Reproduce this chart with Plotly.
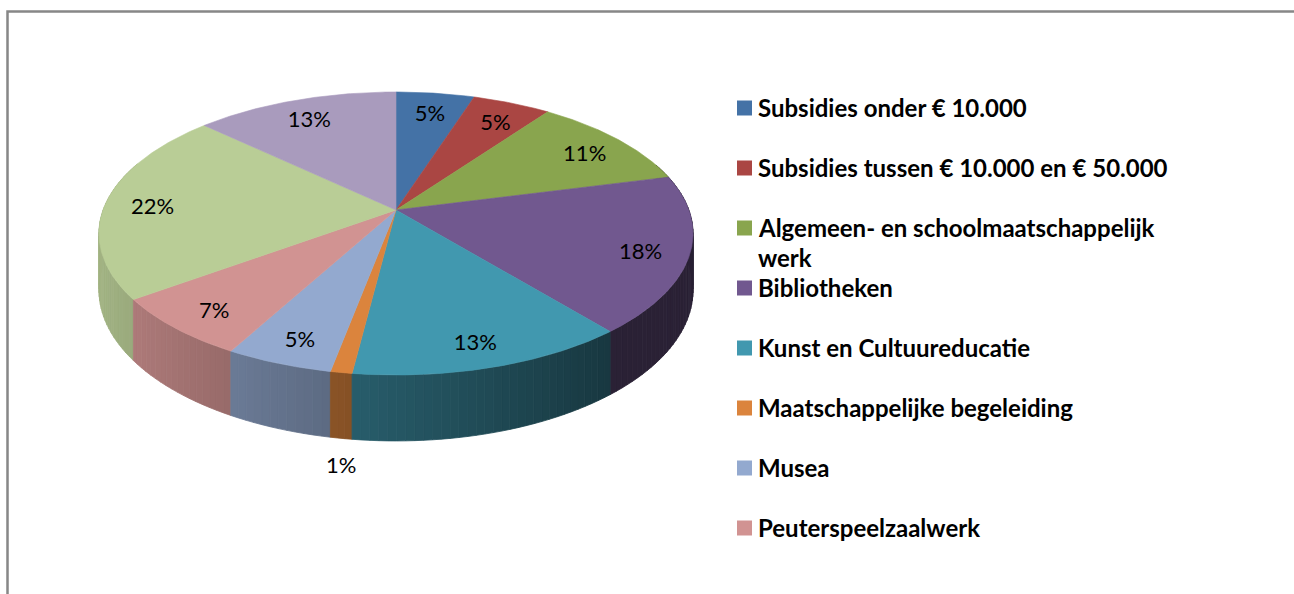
import math
import plotly.graph_objects as go

# ---------------- data ----------------
# Slices in drawing order, clockwise from 12 o'clock.
values = [5, 5, 11, 18, 13, 1, 5, 7, 22, 13]          # percentages
slice_colors = ["#4472A6", "#AA4643", "#89A54E", "#71588F", "#4198AF",
                "#DB843D", "#93A9CF", "#D19392", "#B9CD96", "#A99BBD"]
# Legend in the source only shows the first 8 categories (the rest is cut off).
legend_labels = ["Subsidies onder € 10.000",
                 "Subsidies tussen € 10.000 en € 50.000",
                 "Algemeen- en schoolmaatschappelijk<br>werk",
                 "Bibliotheken",
                 "Kunst en Cultuureducatie",
                 "Maatschappelijke begeleiding",
                 "Musea",
                 "Peuterspeelzaalwerk"]

# ---------------- layout / style constants ----------------
W, Hh = 1294, 594
CX, CY = 396.0, 210.0      # apex of the pie (pixels)
A, B = 292.9, 137.6        # horizontal / vertical radius factors
K = 0.166                  # perspective strength
DEPTH = 55.0               # thickness of the pie
LABEL_FONT = "Lato, 'Open Sans', Arial, sans-serif"


def proj(r, theta_deg, drop=0.0):
    t = math.radians(theta_deg)
    X = r * math.sin(t)
    Y = r * math.cos(t)
    w = 1.0 + K * Y
    return CX + A * X / w, CY - B * Y / w + DEPTH * drop / w


def shade(hex_color, f):
    h = hex_color.lstrip("#")
    r, g, b = (int(h[i:i + 2], 16) for i in (0, 2, 4))
    return "rgb(%d,%d,%d)" % (round(r * f), round(g * f), round(b * f))


total = float(sum(values))
starts, ends = [], []
acc = 0.0
for v in values:
    starts.append(acc / total * 360.0)
    acc += v
    ends.append(acc / total * 360.0)

fig = go.Figure()

# ---- side walls (drawn far to near) ----
quads = []
for i, v in enumerate(values):
    a0, a1 = starts[i], ends[i]
    n = max(1, int(math.ceil((a1 - a0) / 1.5)))
    for j in range(n):
        s = a0 + (a1 - a0) * j / n
        e = a0 + (a1 - a0) * (j + 1) / n
        m = math.radians((s + e) / 2)
        Ym, Xm = math.cos(m), math.sin(m)
        if Ym > 0.35:
            continue
        quads.append((Ym, Xm, i, s, e))
quads.sort(key=lambda q: -q[0])
for Ym, Xm, i, s, e in quads:
    p0 = proj(1, s); p1 = proj(1, e)
    q1 = proj(1, e, 1); q0 = proj(1, s, 1)
    f = min(0.88, max(0.37, 0.57 - 0.32 * Xm))
    c = shade(slice_colors[i], f)
    fig.add_trace(go.Scatter(
        x=[p0[0], p1[0], q1[0], q0[0], p0[0]],
        y=[p0[1], p1[1], q1[1], q0[1], p0[1]],
        mode="lines", fill="toself", fillcolor=c,
        line=dict(color=c, width=0.8), hoverinfo="skip", showlegend=False))

# ---- top faces ----
for i, v in enumerate(values):
    a0, a1 = starts[i], ends[i]
    n = max(2, int(math.ceil((a1 - a0) / 0.5)))
    xs, ys = [CX], [CY]
    for j in range(n + 1):
        px, py = proj(1, a0 + (a1 - a0) * j / n)
        xs.append(px); ys.append(py)
    xs.append(CX); ys.append(CY)
    fig.add_trace(go.Scatter(
        x=xs, y=ys, mode="lines", fill="toself", fillcolor=slice_colors[i],
        line=dict(color=slice_colors[i], width=0.6),
        hoverinfo="skip", showlegend=False))

# ---- data labels ----
lx, ly, lt = [], [], []
for i, v in enumerate(values):
    mid = (starts[i] + ends[i]) / 2
    if v / total < 0.02:
        x, y = proj(1.0, mid, 1)
        y += 29
    else:
        x, y = proj(0.84, mid)
        y += 6
    lx.append(x); ly.append(y); lt.append("%d%%" % round(v / total * 100))
fig.add_trace(go.Scatter(
    x=lx, y=ly, text=lt, mode="text", textposition="middle center",
    textfont=dict(family=LABEL_FONT, size=22, color="#000000"),
    hoverinfo="skip", showlegend=False))

# ---- legend (as in the source: square swatch + bold text, 60 px pitch) ----
LEG_X, LEG_Y, LEG_STEP, LINE_STEP = 744.5, 108.0, 60.0, 30.0
sw_x, sw_y, sw_c = [], [], []
annotations = []
for i, lab in enumerate(legend_labels):
    y0 = LEG_Y + LEG_STEP * i
    sw_x.append(LEG_X); sw_y.append(y0); sw_c.append(slice_colors[i])
    for k, line in enumerate(lab.split("<br>")):
        annotations.append(dict(
            x=757, y=y0 - 1 + LINE_STEP * k, xref="x", yref="y",
            text=line, showarrow=False, xanchor="left", yanchor="middle",
            borderpad=0,
            font=dict(family=LABEL_FONT, size=24, color="#000000", weight="bold")))
fig.add_trace(go.Scatter(
    x=sw_x, y=sw_y, mode="markers",
    marker=dict(symbol="square", size=15, color=sw_c, line=dict(width=0)),
    hoverinfo="skip", showlegend=False))

fig.update_layout(
    width=W, height=Hh, autosize=False,
    margin=dict(l=0, r=0, t=0, b=0, pad=0),
    paper_bgcolor="white", plot_bgcolor="white",
    showlegend=False,
    xaxis=dict(range=[0, W], visible=False, fixedrange=True),
    yaxis=dict(range=[Hh, 0], visible=False, fixedrange=True),
    annotations=annotations,
    shapes=[dict(type="rect", xref="x", yref="y", x0=7.5, y0=11.5, x1=W + 20, y1=Hh + 20,
                 line=dict(color="#878787", width=2.5), fillcolor="rgba(0,0,0,0)")],
)

fig.write_html(
    "out.html",
    config={"displayModeBar": False, "responsive": False},
    post_script="document.body.style.margin='0';document.body.style.padding='0';"
                "document.body.style.overflow='hidden';"
                "document.documentElement.style.overflow='hidden';",
)
